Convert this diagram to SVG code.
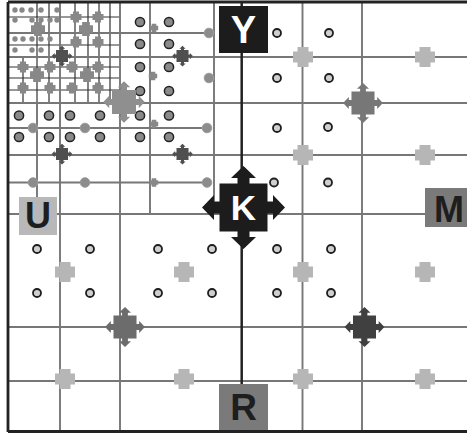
<svg xmlns="http://www.w3.org/2000/svg" width="467" height="434" viewBox="0 0 467 434">
<defs>
<style>
.g{stroke:#777;stroke-width:1.9;fill:none}
.f{stroke:#333;stroke-width:1.2;fill:none}
.fr{stroke:#222;fill:none}
.ca{fill:#8a8a8a;stroke:#222;stroke-width:1.5}
.cb{fill:#cfcfcf;stroke:#1e1e1e;stroke-width:1.8}
.cc{fill:#8c8c8c;stroke:#9c9c9c;stroke-width:1}
.dot{fill:#888}
.pl{fill:#b6b6b6}
.pm{fill:#888}
.lbl{font-family:"Liberation Sans",Arial,sans-serif;font-weight:bold;text-anchor:middle}
</style>
<path id="xc" d="M0,-41.5L12.5,-29.5L6,-29.5L6,-24L24,-24L24,-6L29.5,-6L29.5,-12.5L41.5,0L29.5,12.5L29.5,6L24,6L24,24L6,24L6,29.5L12.5,29.5L0,41.5L-12.5,29.5L-6,29.5L-6,24L-24,24L-24,6L-29.5,6L-29.5,12.5L-41.5,0L-29.5,-12.5L-29.5,-6L-24,-6L-24,-24L-6,-24L-6,-29.5L-12.5,-29.5Z"/>
<path id="pp" d="M-5.5,-10H5.5V-5.5H10V5.5H5.5V10H-5.5V5.5H-10V-5.5H-5.5Z"/>
</defs>
<rect width="467" height="434" fill="#fff"/>

<g id="connectors">
<g id="fine-mesh" class="f">
<path d="M37,2V103M49,2V103M75,2V103M88,2V103M99,2V103M110,2V103M23,57V103"/>
<path d="M8,17H120M8,45H120M8,67H120M8,78H120M8,90H120"/>
</g>
<g id="grid" class="g">
<path d="M8,57H467M8,103H467M8,155H467M8,214H467M8,327H467M8,381H467"/>
<path d="M60,2V431M120,2V431M302.5,2V431M362,2V431M150,2V214M214,2V214M37,103V214"/>
<path d="M8,33H209M8,128H207M8,182.5H207"/>
</g>
<g id="frame" class="fr">
<path d="M8,2H467" stroke-width="3"/>
<path d="M8,2V432" stroke-width="2.8"/>
<path d="M8,431.5H467" stroke-width="3"/>
<path d="M241.7,2V431" stroke-width="2.5"/>
</g>
</g>

<g id="tiny-dots" class="dot">
<circle cx="15" cy="10" r="2.7"/><circle cx="22" cy="10" r="2.7"/><circle cx="31" cy="10" r="2.7"/><circle cx="41" cy="10" r="2.7"/><circle cx="57" cy="10" r="2.7"/>
<circle cx="15" cy="20" r="2.7"/><circle cx="32" cy="20" r="2.7"/><circle cx="41" cy="20" r="2.7"/><circle cx="50" cy="20" r="2.7"/><circle cx="57" cy="20" r="2.7"/>
<circle cx="15" cy="39" r="2.7"/><circle cx="23" cy="39" r="2.7"/><circle cx="32" cy="39" r="2.7"/><circle cx="41" cy="39" r="2.7"/><circle cx="50" cy="39" r="2.7"/>
<circle cx="15" cy="50" r="2.7"/><circle cx="32" cy="50" r="2.7"/><circle cx="41" cy="50" r="2.7"/>
</g>

<g id="mid-plus" class="pm">
<use href="#pp" transform="translate(38,29) scale(0.7)"/>
<use href="#pp" transform="translate(86,29) scale(0.7)"/>
<use href="#pp" transform="translate(37,75) scale(0.7)"/>
<use href="#pp" transform="translate(87,75) scale(0.7)"/>
<use href="#pp" transform="translate(76,17) scale(0.55)"/>
<use href="#pp" transform="translate(98,17) scale(0.55)"/>
<use href="#pp" transform="translate(76,42) scale(0.55)"/>
<use href="#pp" transform="translate(98,42) scale(0.55)"/>
<use href="#pp" transform="translate(23,67) scale(0.55)"/>
<use href="#pp" transform="translate(50,67) scale(0.55)"/>
<use href="#pp" transform="translate(72,67) scale(0.55)"/>
<use href="#pp" transform="translate(98,67) scale(0.55)"/>
<use href="#pp" transform="translate(23,88) scale(0.55)"/>
<use href="#pp" transform="translate(50,88) scale(0.55)"/>
<use href="#pp" transform="translate(72,88) scale(0.55)"/>
<use href="#pp" transform="translate(98,88) scale(0.55)"/>
<use href="#pp" transform="translate(154,28) scale(0.42)"/>
<use href="#pp" transform="translate(153,76) scale(0.42)"/>
<use href="#pp" transform="translate(154,124) scale(0.42)"/>
<use href="#pp" transform="translate(154,182.5) scale(0.42)"/>
</g>

<g id="light-plus" class="pl">
<use href="#pp" transform="translate(303,57)"/>
<use href="#pp" transform="translate(425,57)"/>
<use href="#pp" transform="translate(303,155)"/>
<use href="#pp" transform="translate(425,155)"/>
<use href="#pp" transform="translate(65,272)"/>
<use href="#pp" transform="translate(184,272)"/>
<use href="#pp" transform="translate(303,272)"/>
<use href="#pp" transform="translate(425,272)"/>
<use href="#pp" transform="translate(65,379)"/>
<use href="#pp" transform="translate(184,379)"/>
<use href="#pp" transform="translate(303,379)"/>
<use href="#pp" transform="translate(425,379)"/>
</g>

<g id="circles-a" class="ca">
<circle cx="140" cy="22" r="4.6"/><circle cx="169" cy="22" r="4.6"/>
<circle cx="140" cy="44" r="4.6"/><circle cx="169" cy="44" r="4.6"/>
<circle cx="140" cy="67" r="4.6"/><circle cx="169" cy="67" r="4.6"/>
<circle cx="140" cy="91" r="4.6"/><circle cx="169" cy="91" r="4.6"/>
<circle cx="19" cy="115.5" r="4.6"/><circle cx="49" cy="115.5" r="4.6"/><circle cx="70" cy="115.5" r="4.6"/><circle cx="100" cy="115.5" r="4.6"/><circle cx="140" cy="115.5" r="4.6"/><circle cx="169" cy="115.5" r="4.6"/>
<circle cx="19" cy="137" r="4.6"/><circle cx="49" cy="137" r="4.6"/><circle cx="70" cy="137" r="4.6"/><circle cx="100" cy="137" r="4.6"/><circle cx="140" cy="137" r="4.6"/><circle cx="169" cy="137" r="4.6"/>
</g>

<g id="circles-c" class="cc">
<circle cx="209" cy="33" r="4.8"/><circle cx="209" cy="78" r="4.8"/>
<circle cx="33" cy="128" r="4.8"/><circle cx="85" cy="128" r="4.8"/><circle cx="207" cy="128" r="4.8"/>
<circle cx="33" cy="182.5" r="4.8"/><circle cx="85" cy="182.5" r="4.8"/><circle cx="207" cy="182.5" r="4.8"/>
</g>

<g id="circles-b" class="cb">
<circle cx="277" cy="33" r="4"/><circle cx="329" cy="33" r="4"/>
<circle cx="277" cy="78" r="4"/><circle cx="329" cy="78" r="4"/>
<circle cx="277" cy="128" r="4"/><circle cx="328" cy="127" r="4"/>
<circle cx="274" cy="182.5" r="4"/><circle cx="328" cy="182.5" r="4"/>
<circle cx="37" cy="249" r="4"/><circle cx="90" cy="249" r="4"/><circle cx="158" cy="249" r="4"/><circle cx="212" cy="249" r="4"/><circle cx="277" cy="249" r="4"/><circle cx="331" cy="249" r="4"/>
<circle cx="37" cy="293" r="4"/><circle cx="90" cy="293" r="4"/><circle cx="158" cy="293" r="4"/><circle cx="212" cy="293" r="4"/><circle cx="277" cy="293" r="4"/><circle cx="331" cy="293" r="4"/>
</g>

<g id="small-crosses" fill="#4f4f4f">
<use href="#xc" transform="translate(62,56) scale(0.25)"/>
<use href="#xc" transform="translate(182.5,56) scale(0.25)"/>
<use href="#xc" transform="translate(62,154) scale(0.25)"/>
<use href="#xc" transform="translate(182.5,154) scale(0.25)"/>
</g>
<g id="cross-tl"><use href="#xc" fill="#8f8f8f" transform="translate(124,102) scale(0.5)"/></g>
<g id="cross-tr"><use href="#xc" fill="#777" transform="translate(363,103) scale(0.48)"/></g>
<g id="cross-bl"><use href="#xc" fill="#6c6c6c" transform="translate(125,327) scale(0.48)"/></g>
<g id="cross-br"><use href="#xc" fill="#404040" transform="translate(364.5,327) scale(0.48)"/></g>

<g id="node-K">
<use href="#xc" fill="#1c1c1c" transform="translate(243.5,207.5)"/>
<text class="lbl" x="243.5" y="220" font-size="35" fill="#fff">K</text>
</g>
<g id="node-Y">
<rect x="219" y="6" width="49" height="47" fill="#1c1c1c"/>
<text class="lbl" x="243.5" y="43" font-size="38" fill="#fff">Y</text>
</g>
<g id="node-U">
<rect x="19" y="197" width="38" height="38" fill="#b8b8b8"/>
<text class="lbl" x="38" y="227.5" font-size="36" fill="#1e1e1e">U</text>
</g>
<g id="node-M">
<rect x="425" y="188" width="45" height="39" fill="#7a7a7a"/>
<text class="lbl" x="449" y="221.5" font-size="36" fill="#1e1e1e">M</text>
</g>
<g id="node-R">
<rect x="219" y="384" width="49" height="46" fill="#7a7a7a"/>
<text class="lbl" x="243.5" y="420" font-size="37" fill="#1e1e1e">R</text>
</g>
</svg>
